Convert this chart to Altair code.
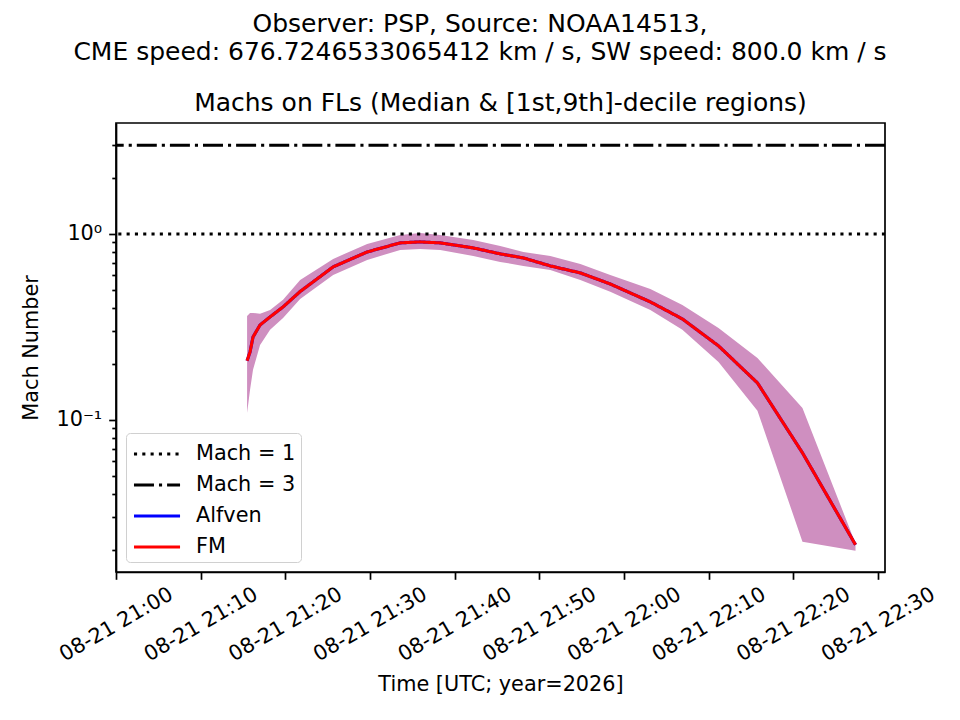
import altair as alt
import pandas as pd

FONT = "DejaVu Sans"

# ---- data ----
times = [
    "2026-08-21T21:15:29", "2026-08-21T21:15:50", "2026-08-21T21:16:11", "2026-08-21T21:17:01",
    "2026-08-21T21:18:12", "2026-08-21T21:19:44", "2026-08-21T21:21:45", "2026-08-21T21:25:39",
    "2026-08-21T21:29:40", "2026-08-21T21:33:34", "2026-08-21T21:35:56", "2026-08-21T21:38:18",
    "2026-08-21T21:42:12", "2026-08-21T21:45:23", "2026-08-21T21:48:07", "2026-08-21T21:51:18",
    "2026-08-21T21:54:51", "2026-08-21T21:58:23", "2026-08-21T22:03:07", "2026-08-21T22:06:54",
    "2026-08-21T22:11:10", "2026-08-21T22:15:46", "2026-08-21T22:21:05", "2026-08-21T22:27:21",
]
fm_median = [0.208, 0.232, 0.279, 0.324, 0.358, 0.405, 0.490, 0.665, 0.800, 0.895, 0.906, 0.895,
             0.841, 0.781, 0.743, 0.673, 0.617, 0.538, 0.431, 0.349, 0.250, 0.158, 0.0665, 0.0213]
alfven_median = [0.208, 0.232, 0.279, 0.324, 0.358, 0.405, 0.490, 0.665, 0.800, 0.895, 0.906, 0.895,
                 0.841, 0.781, 0.743, 0.673, 0.617, 0.538, 0.431, 0.349, 0.250, 0.158, 0.0665, 0.0213]
band_hi = [0.362, 0.376, 0.376, 0.372, 0.390, 0.442, 0.566, 0.734, 0.884, 0.988, 1.012, 0.988,
           0.928, 0.862, 0.800, 0.761, 0.690, 0.602, 0.506, 0.415, 0.312, 0.215, 0.116, 0.0216]
band_lo = [0.109, 0.145, 0.186, 0.253, 0.305, 0.353, 0.447, 0.602, 0.725, 0.820, 0.831, 0.820,
           0.761, 0.707, 0.673, 0.640, 0.566, 0.488, 0.390, 0.305, 0.205, 0.112, 0.0221, 0.0198]

mach_labels = ["Mach = 1", "Mach = 3"]
mach_values = [1, 3]

series_names = ["Mach = 1", "Mach = 3", "Alfven", "FM"]
series_colors = ["#000000", "#000000", "#0000ff", "#ff0000"]
series_dashes = [[3.1, 5.2], [20, 5, 3.1, 5], [1, 0], [1, 0]]

suptitle_1 = "Observer: PSP, Source: NOAA14513,"
suptitle_2 = "CME speed: 676.7246533065412 km / s, SW speed: 800.0 km / s"
axes_title = "Machs on FLs (Median & [1st,9th]-decile regions)"

x_ticks = [(21, 0), (21, 10), (21, 20), (21, 30), (21, 40), (21, 50), (22, 0), (22, 10), (22, 20), (22, 30)]
y_ticks = [0.02, 0.03, 0.04, 0.05, 0.06, 0.07, 0.08, 0.09, 0.1,
           0.2, 0.3, 0.4, 0.5, 0.6, 0.7, 0.8, 0.9, 1, 2, 3]

# ---- tables ----
band_df = pd.DataFrame({"time": times, "lo": band_lo, "hi": band_hi})
lines_df = pd.concat([
    pd.DataFrame({"time": times, "mach": alfven_median, "series": "Alfven", "order": 0}),
    pd.DataFrame({"time": times, "mach": fm_median, "series": "FM", "order": 1}),
], ignore_index=True)
rules_df = pd.DataFrame({"series": mach_labels, "mach": mach_values})

# ---- encodings ----
def dt(h, m, s=0):
    return alt.DateTime(year=2026, month=8, date=21, hours=h, minutes=m, seconds=s)

x_enc = alt.X(
    "time:T",
    scale=alt.Scale(domain=[dt(21, 0), dt(22, 30, 50)]),
    axis=alt.Axis(
        values=[dt(h, m) for h, m in x_ticks],
        format="%m-%d %H:%M",
        labelAngle=330,
        labelAlign="center",
        labelBaseline="middle",
        labelPadding=45,
        labelFlush=False,
        labelOverlap=False,
        tickSize=7.3,
        title="Time [UTC; year=2026]",
        titlePadding=10,
    ),
)

y_scale = alt.Scale(type="log", domain=[0.0152, 3.95], nice=False)
y_axis = alt.Axis(
    values=y_ticks,
    labelExpr="datum.value === 1 ? '10⁰' : (datum.value === 0.1 ? '10⁻¹' : '')",
    labelOverlap=False,
    tickSize={"condition": {"test": "datum.value === 1 || datum.value === 0.1", "value": 7.3}, "value": 4.2},
    labelPadding=7,
    title="Mach Number",
    titlePadding=14,
)

legend = alt.Legend(
    title=None,
    orient="bottom-left",
    offset=10,
    symbolType="M-0.93,0H2.36",
    symbolSize=784,
    symbolStrokeWidth=3.1,
    labelFont=FONT,
    labelFontSize=20.8,
    labelColor="#000000",
    labelOffset=33,
    rowPadding=5,
    padding=5,
    fillColor="#ffffff",
    strokeColor="#d0d0d0",
    cornerRadius=4,
)
color_enc = alt.Color("series:N", scale=alt.Scale(domain=series_names, range=series_colors), legend=legend)
dash_enc = alt.StrokeDash("series:N", scale=alt.Scale(domain=series_names, range=series_dashes), legend=legend)

band = alt.Chart(band_df).mark_area(color="#cf8fc0", opacity=1).encode(
    x=x_enc,
    y=alt.Y("lo:Q", scale=y_scale, axis=y_axis, title="Mach Number"),
    y2="hi:Q",
)

lines = alt.Chart(lines_df).mark_line(strokeWidth=3.1).encode(
    x=x_enc,
    y=alt.Y("mach:Q", scale=y_scale, axis=y_axis, title="Mach Number"),
    color=color_enc,
    strokeDash=dash_enc,
    order="order:Q",
)

rules = alt.Chart(rules_df).mark_rule(strokeWidth=3.1).encode(
    y=alt.Y("mach:Q", scale=y_scale, axis=y_axis, title="Mach Number"),
    color=color_enc,
    strokeDash=dash_enc,
)

def title_text(txt, x, y):
    return alt.Chart(pd.DataFrame({"t": [txt]})).mark_text(
        font=FONT, fontSize=25, color="#000000", align="center", baseline="middle"
    ).encode(text="t:N", x=alt.value(x), y=alt.value(y))

t1 = title_text(suptitle_1, 364, -99)
t2 = title_text(suptitle_2, 364, -71)
t3 = title_text(axes_title, 384.5, -20)

chart = alt.layer(band, lines, rules, t1, t2, t3).properties(
    width=769,
    height=449,
    autosize=alt.AutoSizeParams(type="none"),
    padding={"left": 108, "top": 115, "right": 66, "bottom": 130},
    background="#ffffff",
).configure_view(
    stroke="#000000", strokeWidth=1.7
).configure_axis(
    grid=False,
    domainColor="#000000",
    domainWidth=1.7,
    tickColor="#000000",
    tickWidth=1.7,
    labelFont=FONT,
    labelFontSize=20.8,
    labelColor="#000000",
    titleFont=FONT,
    titleFontSize=20.8,
    titleFontWeight="normal",
    titleColor="#000000",
)

chart.save("out.html", embed_options={"renderer": "svg", "actions": False})
